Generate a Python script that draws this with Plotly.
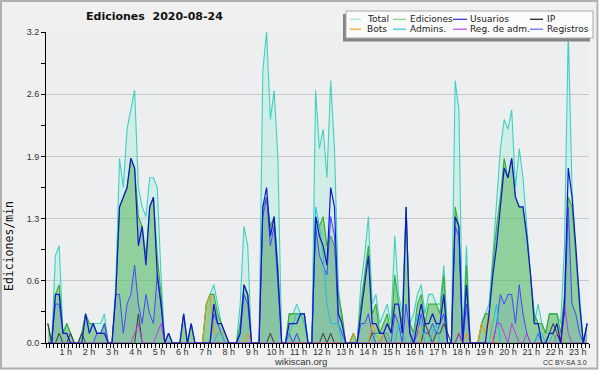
import plotly.graph_objects as go

# 10-minute intervals (mid-point, in minutes after midnight)
minutes = list(range(5, 1440, 10))
hours = [m / 60 for m in minutes]

total = [
    0.2, 0, 0.9, 1.0, 0.1, 0.2,   0.1, 0, 0, 0.1, 0.3, 0.2,   0.2, 0.2, 0.2, 0.3, 0, 0,
    0.6, 1.9, 1.6, 2.2, 2.4, 2.6,   1.6, 1.4, 1.3, 1.7, 1.7, 1.6,   0.7, 0, 0.1, 0, 0, 0,
    0.3, 0, 0.2, 0, 0, 0,   0.4, 0.5, 0.6, 0.4, 0.2, 0.1,   0, 0, 0, 0.4, 1.2, 1.0,
    0, 0, 0, 2.8, 3.2, 2.3,   2.6, 1.9, 0, 0, 0.3, 0.3,   0.4, 0.3, 0.3, 0, 0, 2.6,
    2.0, 2.2, 1.7, 2.7, 2.0, 0.6,   0.2, 0, 0, 0.1, 0, 0.6,   0.9, 1.3, 0.4, 0.5, 0.2, 0.3,
    0.4, 0.2, 1.1, 0.5, 0.3, 1.4,   0.2, 0.3, 0.5, 0.6, 0.3, 0.5,   0.5, 0.4, 0.4, 0.8, 0.1, 0,
    2.7, 2.4, 0, 1.0, 0, 0,   0, 0.2, 0.3, 0.4, 0.9, 1.5,   2.0, 2.3, 2.2, 2.4, 1.6, 2.0,
    1.7, 1.2, 0.7, 0.2, 0.4, 0.2,   0.1, 0.3, 0.3, 0.3, 0.2, 1.0,   3.2, 1.6, 0.9, 0.5, 0, 0.2,
]
ediciones = [
    0.2, 0, 0.5, 0.6, 0.1, 0.2,   0.1, 0, 0, 0.1, 0.3, 0.2,   0.2, 0.1, 0.1, 0.2, 0, 0,
    0.5, 1.4, 1.5, 1.6, 1.9, 1.8,   1.3, 1.2, 0.9, 1.4, 1.5, 0.9,   0.5, 0, 0.1, 0, 0, 0,
    0.3, 0, 0.2, 0, 0, 0,   0.4, 0.5, 0.5, 0.3, 0.2, 0.1,   0, 0, 0, 0.2, 0.6, 0.5,
    0, 0, 0, 1.4, 1.5, 1.2,   1.3, 0.8, 0, 0, 0.3, 0.3,   0.3, 0.3, 0.3, 0, 0, 1.3,
    1.2, 1.3, 1.0, 1.1, 1.0, 0.5,   0.3, 0, 0, 0.1, 0, 0.4,   0.7, 1.0, 0.3, 0.4, 0.1, 0.2,
    0.3, 0.1, 0.7, 0.4, 0.2, 1.4,   0.2, 0.1, 0.4, 0.5, 0.2, 0.4,   0.4, 0.4, 0.3, 0.7, 0, 0,
    1.4, 1.2, 0, 0.8, 0, 0,   0, 0.2, 0.3, 0.3, 0.8, 1.2,   1.5, 1.9, 1.7, 1.9, 1.5, 1.4,
    1.4, 1.1, 0.7, 0.3, 0.2, 0.2,   0.1, 0.3, 0.3, 0.3, 0.1, 0.5,   1.5, 1.4, 0.9, 0.4, 0, 0.2,
]
usuarios = [
    0, 0, 0.5, 0.5, 0.1, 0.1,   0, 0, 0, 0, 0.3, 0.1,   0.2, 0.1, 0.1, 0.1, 0, 0,
    0.5, 1.4, 1.5, 1.6, 1.9, 1.8,   1.0, 1.2, 0.8, 1.4, 1.5, 0.7,   0.4, 0, 0.1, 0, 0, 0,
    0.3, 0, 0.2, 0, 0, 0,   0, 0, 0.4, 0.2, 0.2, 0.1,   0, 0, 0, 0.1, 0.6, 0.5,
    0, 0, 0, 1.4, 1.6, 1.1,   1.3, 0.7, 0, 0, 0.2, 0.2,   0.2, 0.3, 0.3, 0, 0, 1.3,
    1.1, 1.0, 0.8, 1.6, 1.4, 0.3,   0.2, 0, 0, 0, 0, 0.3,   0.6, 0.9, 0.2, 0.2, 0.1, 0.1,
    0.2, 0.1, 0.4, 0.4, 0.1, 1.4,   0.1, 0, 0.2, 0.4, 0.2, 0.2,   0.3, 0.2, 0.2, 0.5, 0, 0,
    1.3, 1.2, 0, 0.6, 0, 0,   0, 0, 0, 0.3, 0.7, 1.0,   1.4, 1.8, 1.7, 1.9, 1.5, 1.4,
    1.4, 1.1, 0.7, 0.2, 0.2, 0,   0, 0.1, 0.1, 0.2, 0, 0.4,   1.8, 1.5, 1.0, 0.4, 0, 0.2,
]
ip = [
    0.2, 0, 0, 0.1, 0, 0,   0.1, 0, 0, 0.1, 0, 0,   0, 0, 0, 0, 0, 0,
    0, 0, 0, 0, 0, 0,   0.3, 0, 0, 0, 0, 0,   0, 0, 0, 0, 0, 0,
    0, 0, 0, 0, 0, 0,   0, 0, 0, 0, 0, 0,   0, 0, 0, 0, 0, 0,
    0, 0, 0, 0, 0, 0.1,   0, 0, 0, 0, 0, 0,   0, 0, 0, 0, 0, 0,
    0, 0.1, 0, 0.1, 0, 0,   0, 0, 0, 0, 0, 0,   0, 0, 0.1, 0.1, 0.1, 0.1,
    0, 0, 0, 0, 0, 0,   0, 0, 0, 0, 0.2, 0.1,   0, 0.1, 0.1, 0.2, 0.1, 0,
    0, 0.1, 0, 0, 0, 0,   0, 0, 0, 0, 0, 0,   0, 0, 0, 0, 0, 0,
    0, 0, 0, 0, 0, 0,   0, 0.1, 0.2, 0.1, 0, 0,   0, 0, 0, 0, 0, 0,
]
bots = [
    0, 0, 0, 0, 0, 0,   0, 0, 0, 0, 0, 0,   0, 0, 0, 0, 0, 0,
    0, 0, 0, 0, 0, 0,   0, 0, 0, 0, 0, 0,   0, 0, 0, 0, 0, 0,
    0, 0, 0, 0, 0, 0,   0.4, 0.5, 0.1, 0.1, 0.1, 0.1,   0, 0, 0, 0, 0, 0.1,
    0, 0, 0, 0, 0, 0,   0, 0, 0, 0, 0, 0,   0, 0, 0, 0, 0, 0,
    0, 0, 0, 0, 0, 0,   0, 0, 0, 0.1, 0, 0,   0, 0, 0.2, 0.1, 0, 0.1,
    0.1, 0, 0, 0, 0, 0,   0, 0.1, 0.2, 0, 0, 0,   0, 0, 0, 0, 0, 0,
    0, 0, 0, 0.1, 0, 0,   0, 0.2, 0.1, 0.3, 0, 0,   0, 0, 0, 0, 0, 0,
    0, 0, 0, 0, 0, 0,   0, 0, 0, 0.1, 0.1, 0,   0, 0, 0, 0, 0, 0,
]
admins = [
    0, 0, 0, 0, 0, 0,   0, 0, 0, 0, 0, 0,   0, 0, 0, 0, 0, 0,
    0, 0, 0, 0, 0, 0,   0, 0, 0, 0, 0, 0,   0, 0, 0, 0, 0, 0,
    0, 0, 0, 0, 0, 0,   0, 0, 0, 0.1, 0.1, 0,   0, 0, 0, 0, 0, 0,
    0, 0, 0, 0, 0, 0,   0, 0, 0, 0, 0.1, 0.2,   0.3, 0.3, 0.2, 0, 0, 1.4,
    1.2, 0.9, 0.4, 0.2, 0.2, 0.2,   0, 0, 0, 0, 0, 0,   0, 0, 0, 0.1, 0.1, 0.1,
    0.1, 0, 0, 0.2, 0.1, 0,   0, 0.1, 0.3, 0.2, 0, 0,   0.1, 0.2, 0, 0, 0, 0,
    0, 0, 0, 0, 0, 0,   0, 0, 0, 0, 0.2, 0.4,   0, 0, 0, 0, 0, 0,
    0, 0, 0, 0, 0.1, 0.1,   0, 0, 0.1, 0, 0, 0,   0, 0, 0, 0, 0, 0,
]
reg_adm = [
    0, 0, 0, 0, 0, 0,   0, 0, 0, 0, 0, 0,   0, 0, 0, 0, 0, 0,
    0, 0, 0, 0, 0, 0.1,   0.2, 0, 0, 0, 0, 0.1,   0.2, 0, 0, 0, 0, 0,
    0, 0, 0, 0, 0, 0,   0, 0, 0, 0, 0, 0,   0, 0, 0, 0, 0, 0,
    0, 0, 0, 0, 0, 0,   0, 0, 0, 0, 0, 0,   0, 0, 0, 0, 0, 0,
    0, 0, 0, 0, 0, 0,   0, 0, 0, 0, 0, 0,   0, 0, 0, 0, 0, 0,
    0, 0, 0, 0, 0, 0,   0, 0, 0, 0, 0, 0,   0, 0, 0, 0, 0, 0,
    0, 0.1, 0, 0, 0, 0,   0, 0, 0, 0, 0, 0.2,   0.2, 0.1, 0, 0.2, 0.1, 0,
    0, 0.1, 0, 0, 0, 0,   0, 0, 0, 0, 0, 0.4,   0.1, 0, 0, 0, 0, 0,
]
registros = [
    0, 0, 0.4, 0.4, 0.1, 0.1,   0, 0, 0, 0, 0, 0,   0, 0.1, 0.1, 0.2, 0, 0,
    0.5, 0.5, 0.1, 0.4, 0.5, 0.8,   0.4, 0.2, 0.5, 0.3, 0.2, 0.7,   0.4, 0, 0, 0, 0, 0,
    0, 0, 0, 0, 0, 0,   0, 0, 0.3, 0.2, 0.1, 0,   0, 0, 0, 0.1, 0.5, 0.4,
    0, 0, 0, 1.3, 1.5, 1.0,   1.2, 0.6, 0, 0, 0.1, 0,   0.1, 0, 0, 0, 0, 1.2,
    0.9, 0.8, 0.7, 1.3, 1.1, 0.2,   0.1, 0, 0, 0, 0, 0.2,   0.2, 0.3, 0.1, 0, 0, 0.1,
    0.1, 0, 0.3, 0.2, 0, 0.4,   0.1, 0, 0.1, 0.3, 0.1, 0.1,   0.2, 0.1, 0.2, 0.3, 0, 0,
    1.2, 1.1, 0, 0.4, 0, 0,   0, 0, 0, 0, 0, 0.2,   0.5, 0.4, 0.5, 0.5, 0.2, 0.6,
    0.3, 0.1, 0, 0, 0.1, 0,   0, 0, 0, 0.1, 0, 0.3,   1.4, 0.4, 0.3, 0.1, 0, 0.2,
]

y_tick_vals = [0, 0.64, 1.28, 1.92, 2.56, 3.2]
y_tick_text = ["0.0", "0.6", "1.3", "1.9", "2.6", "3.2"]
x_labels = [f"{h} h" for h in range(1, 24)]

# ---- layout geometry (pixels) ----
W, H = 600, 370
L, R, T, B = 46, 589, 32, 343


def px_x(px):
    return (px - L) / (R - L)


def px_y(py):
    return (B - py) / (B - T)


# label centres are spread slightly wider than the data scale in the original
x_label_pos = [((42.53 + 23.27 * h) - L) / (R - L) * 24 for h in range(1, 24)]

C_TOTAL = "rgb(64,208,192)"
C_EDIC = "rgb(55,170,55)"
C_USU = "rgb(20,20,210)"
C_IP = "rgb(60,60,60)"
C_BOTS = "rgb(240,150,20)"
C_ADM = "rgb(30,190,225)"
C_REGADM = "rgb(190,60,220)"
C_REG = "rgb(70,70,255)"

fig = go.Figure()
fig.add_trace(go.Scatter(x=hours, y=total, mode="lines", name="Total",
                         line=dict(color=C_TOTAL, width=1.1),
                         fill="tozeroy", fillcolor="rgba(150,235,210,0.32)"))
fig.add_trace(go.Scatter(x=hours, y=ediciones, mode="lines", name="Ediciones",
                         line=dict(color=C_EDIC, width=1.1),
                         fill="tozeroy", fillcolor="rgba(45,165,45,0.4)"))
fig.add_trace(go.Scatter(x=hours, y=registros, mode="lines", name="Registros",
                         line=dict(color=C_REG, width=1.0),
                         fill="tozeroy", fillcolor="rgba(70,70,255,0.09)"))
fig.add_trace(go.Scatter(x=hours, y=ip, mode="lines", name="IP",
                         line=dict(color=C_IP, width=1.0)))
fig.add_trace(go.Scatter(x=hours, y=bots, mode="lines", name="Bots",
                         line=dict(color=C_BOTS, width=1.0)))
fig.add_trace(go.Scatter(x=hours, y=admins, mode="lines", name="Admins.",
                         line=dict(color=C_ADM, width=1.0)))
fig.add_trace(go.Scatter(x=hours, y=reg_adm, mode="lines", name="Reg. de adm.",
                         line=dict(color=C_REGADM, width=1.0)))
fig.add_trace(go.Scatter(x=hours, y=usuarios, mode="lines", name="Usuarios",
                         line=dict(color=C_USU, width=1.2)))

axis_font = dict(family="Liberation Sans, Arial, sans-serif", size=9, color="#333333")

fig.update_layout(
    width=W, height=H,
    margin=dict(l=L, r=W - R, t=T, b=H - B, pad=0),
    paper_bgcolor="#f0f0f0",
    plot_bgcolor="#edeef0",
    showlegend=False,
    hovermode=False,
    xaxis=dict(
        range=[0, 24], showgrid=False, zeroline=False,
        showline=True, linecolor="black", linewidth=1,
        tickmode="array", tickvals=x_label_pos, ticktext=x_labels,
        ticks="", tickfont=axis_font,
        minor=dict(tickmode="linear", tick0=0, dtick=1 / 6, ticks="outside",
                   ticklen=4, tickcolor="black", tickwidth=1, showgrid=False),
    ),
    yaxis=dict(
        range=[0, 3.2], zeroline=False,
        showline=True, linecolor="black", linewidth=1,
        tickmode="array", tickvals=y_tick_vals, ticktext=y_tick_text,
        ticks="outside", ticklen=4, tickcolor="black", tickfont=axis_font,
        showgrid=True, gridcolor="#c9c9c9", gridwidth=1,
        minor=dict(tickmode="linear", tick0=0, dtick=0.32, ticks="outside",
                   ticklen=4, tickcolor="black", showgrid=False),
    ),
)

shapes = []
annotations = []

# outer frame
shapes.append(dict(type="rect", xref="paper", yref="paper", layer="above",
                   x0=px_x(1), x1=px_x(597.5), y0=px_y(368.5), y1=px_y(1),
                   line=dict(color="#b0b0b0", width=2), fillcolor="rgba(0,0,0,0)"))
shapes.append(dict(type="rect", xref="paper", yref="paper", layer="above",
                   x0=px_x(598.6), x1=px_x(601), y0=px_y(371), y1=px_y(-1),
                   line=dict(width=0), fillcolor="white"))

# legend box with shadow
shapes.append(dict(type="rect", xref="paper", yref="paper", layer="above",
                   x0=px_x(343), x1=px_x(590), y0=px_y(41.5), y1=px_y(14),
                   line=dict(width=0), fillcolor="#858585"))
shapes.append(dict(type="rect", xref="paper", yref="paper", layer="above",
                   x0=px_x(346), x1=px_x(593), y0=px_y(38), y1=px_y(11),
                   line=dict(color="#a8a8a8", width=1), fillcolor="#fbfbfb"))

legend_names = [["Total", "Ediciones", "Usuarios", "IP"],
                ["Bots", "Admins.", "Reg. de adm.", "Registros"]]
legend_colors = [["#a6e6df", "#8fd48f", "#3a3ad6", "#2a2a2a"],
                 ["#f2a43a", "#45c6e2", "#c94fe0", "#6c6cf2"]]
col_line = [(350, 361), (393, 406), (453, 467), (530, 543)]
col_text = [365, 407.5, 468, 544.5]
row_y = [19.3, 29.2]
for r in range(2):
    for c in range(4):
        shapes.append(dict(type="line", xref="paper", yref="paper", layer="above",
                           x0=px_x(col_line[c][0]), x1=px_x(col_line[c][1]),
                           y0=px_y(row_y[r]), y1=px_y(row_y[r]),
                           line=dict(color=legend_colors[r][c], width=1.3)))
        annotations.append(dict(xref="paper", yref="paper", x=px_x(col_text[c]), y=px_y(row_y[r]),
                                text=legend_names[r][c], showarrow=False,
                                xanchor="left", yanchor="middle",
                                font=dict(family="DejaVu Sans", size=9, color="#222222")))

# title
annotations.append(dict(xref="paper", yref="paper", x=px_x(154), y=px_y(16.5),
                        text="<b>Ediciones\u00a0 2020-08-24</b>", showarrow=False,
                        xanchor="center", yanchor="middle",
                        font=dict(family="DejaVu Sans", size=11, color="#111111")))
# y axis title
annotations.append(dict(xref="paper", yref="paper", x=px_x(9), y=px_y(246),
                        text="Ediciones/min", showarrow=False, textangle=-90,
                        xanchor="center", yanchor="middle",
                        font=dict(family="DejaVu Sans Mono", size=11.5, color="#111111")))
# footer texts
annotations.append(dict(xref="paper", yref="paper", x=px_x(300), y=px_y(361),
                        text="wikiscan.org", showarrow=False,
                        xanchor="center", yanchor="middle",
                        font=dict(family="Liberation Sans", size=9.5, color="#333333")))
annotations.append(dict(xref="paper", yref="paper", x=px_x(589), y=px_y(362.5),
                        text="CC BY-SA 3.0", showarrow=False,
                        xanchor="right", yanchor="middle",
                        font=dict(family="Liberation Sans", size=7, color="#333333")))

fig.update_layout(shapes=shapes, annotations=annotations)

fig.write_html("out.html", config={"displayModeBar": False},
               post_script="document.body.style.margin='0px';")
